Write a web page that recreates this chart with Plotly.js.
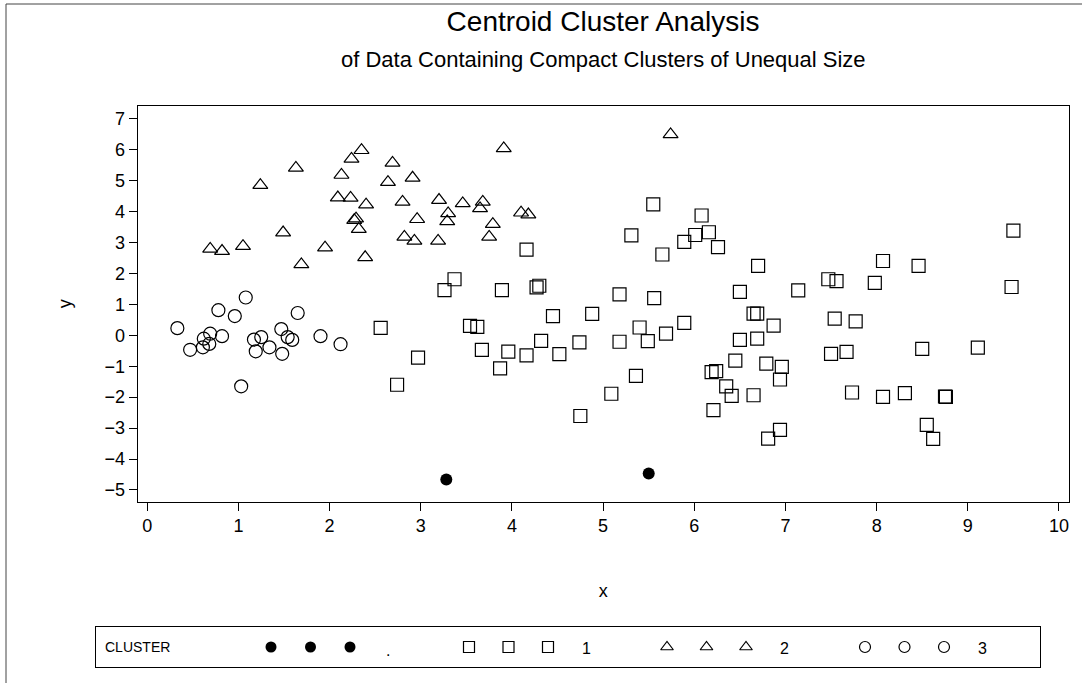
<!DOCTYPE html>
<html>
<head>
<meta charset="utf-8">
<script src="https://cdn.plot.ly/plotly-3.0.1.min.js"></script>
<style>html,body{margin:0;padding:0;background:#fff;}#chart{width:1082px;height:683px;}</style>
</head>
<body>
<div id="chart"></div>
<script>
// ---- data ----
const clusterLabels = ['.', '1', '2', '3'];

// cluster "." (unassigned)
const xMissing = [3.28, 5.50];
const yMissing = [-4.66, -4.47];

// cluster 1
const x1 = [3.26,3.37,2.56,2.97,2.74,3.89,4.27,4.30,5.18,5.56,6.50,6.65,6.69,4.45,4.88,3.54,3.62,5.40,5.69,5.89,
            3.67,3.96,4.16,4.32,4.52,4.74,5.18,5.49,3.87,5.36,5.09,4.75,6.50,6.45,6.19,6.24,6.35,6.41,6.65,6.21,
            5.55,6.08,5.31,6.01,6.16,5.89,6.26,5.65,4.16,6.70,9.50,8.07,8.46,7.47,7.56,7.98,7.14,9.48,6.87,7.54,
            7.77,6.69,6.79,6.96,6.94,7.50,7.67,8.50,9.11,7.73,8.07,8.31,8.75,8.55,8.62,6.94,6.81,8.76];
const y1 = [1.46,1.81,0.24,-0.72,-1.60,1.46,1.55,1.60,1.32,1.20,1.40,0.70,0.70,0.62,0.69,0.30,0.27,0.25,0.05,0.40,
            -0.47,-0.53,-0.65,-0.18,-0.61,-0.23,-0.21,-0.19,-1.07,-1.31,-1.89,-2.61,-0.15,-0.82,-1.19,-1.16,-1.65,-1.96,-1.94,-2.42,
            4.23,3.87,3.23,3.24,3.33,3.02,2.85,2.61,2.77,2.24,3.38,2.40,2.24,1.81,1.75,1.69,1.45,1.56,0.31,0.54,
            0.45,-0.11,-0.92,-1.02,-1.43,-0.60,-0.54,-0.44,-0.40,-1.85,-1.99,-1.87,-1.98,-2.90,-3.35,-3.06,-3.34,-1.99];

// cluster 2
const x2 = [2.35,2.24,2.69,1.63,2.13,2.64,2.91,1.24,2.09,2.23,2.40,2.80,3.20,3.30,3.29,2.29,2.27,2.32,2.96,2.82,
            2.93,3.19,1.49,0.69,0.82,1.05,1.95,1.69,2.39,5.74,3.91,3.46,3.68,3.65,3.79,3.75,4.10,4.18];
const y2 = [5.98,5.70,5.57,5.41,5.18,4.95,5.09,4.85,4.45,4.44,4.22,4.31,4.37,3.94,3.68,3.77,3.72,3.43,3.75,3.18,
            3.05,3.05,3.32,2.79,2.72,2.88,2.83,2.29,2.52,6.49,6.04,4.26,4.31,4.10,3.59,3.18,3.96,3.90];

// cluster 3
const x3 = [1.08,0.78,0.96,1.65,0.33,0.69,0.62,0.82,0.47,0.61,0.68,1.17,1.25,1.19,1.34,1.47,1.54,1.59,1.48,1.90,2.12,1.03];
const y3 = [1.22,0.81,0.62,0.72,0.23,0.05,-0.11,-0.03,-0.47,-0.39,-0.28,-0.14,-0.06,-0.52,-0.39,0.20,-0.06,-0.15,-0.60,-0.03,-0.29,-1.65];

const xTicks = [0,1,2,3,4,5,6,7,8,9,10];
const yTicks = [-5,-4,-3,-2,-1,0,1,2,3,4,5,6,7];

// ---- styles ----
const styles = [
  {symbol:'circle', color:'black', line:{color:'black', width:0}, size:12},
  {symbol:'square-open', color:'black', line:{color:'black', width:1.2}, size:13},
  {symbol:'triangle-up-open', color:'black', line:{color:'black', width:1.2}, size:13},
  {symbol:'circle-open', color:'black', line:{color:'black', width:1.2}, size:13}
];
const series = [[xMissing,yMissing],[x1,y1],[x2,y2],[x3,y3]];

const traces = series.map((s,i) => ({
  type:'scatter', mode:'markers', x:s[0], y:s[1], name:clusterLabels[i],
  xaxis:'x', yaxis:'y', hoverinfo:'x+y+name',
  marker:{symbol:styles[i].symbol, size:styles[i].size, color:styles[i].color, line:styles[i].line}
}));

// ---- page geometry (pixels) ----
const W = 1082, H = 683;
const mL = 96, mR = 13, mT = 106, mB = 16;
const pw = W - mL - mR, ph = H - mT - mB;
const px2fx = p => (p - mL) / pw;
const py2fy = p => (H - mB - p) / ph;
const legRight = 1040, legTop = 627;

// ---- custom legend (three symbols per cluster) on its own small axes, in pixel units ----
const legAnn = [{xref:'x2', yref:'y2', x:103, y:20, xanchor:'left', yanchor:'middle', text:'CLUSTER', showarrow:false, font:{size:14}}];
clusterLabels.forEach((lab,i) => {
  const base = 271 + 198*i;
  traces.push({
    type:'scatter', mode:'markers', xaxis:'x2', yaxis:'y2', hoverinfo:'skip',
    x:[base, base+39.5, base+79], y:[20,20,20],
    marker:{symbol:styles[i].symbol, size:11, color:styles[i].color, line:styles[i].line}
  });
  legAnn.push({xref:'x2', yref:'y2', x:base+117, y:i===0?17:19, xanchor:'center', yanchor:'middle', text:lab, showarrow:false, font:{size:16}});
});

const axisCommon = {showline:true, mirror:true, linecolor:'black', linewidth:1, showgrid:false, zeroline:false,
  ticks:'outside', ticklen:8, tickwidth:1, tickcolor:'black', tickfont:{size:18}};

const layout = {
  width:W, height:H,
  margin:{l:mL, r:mR, t:mT, b:mB},
  paper_bgcolor:'white', plot_bgcolor:'white',
  font:{family:'Liberation Sans, Arial, Helvetica, sans-serif', color:'black'},
  showlegend:false,
  title:{text:'Centroid Cluster Analysis', font:{size:28}, xref:'container', x:603/W, xanchor:'center', yref:'container', y:1-21/H, yanchor:'middle'},
  xaxis:Object.assign({}, axisCommon, {domain:[px2fx(137.7),1], range:[-0.105,10.11], tickvals:xTicks, anchor:'y',
    title:{text:'x', font:{size:18}, standoff:49}}),
  yaxis:Object.assign({}, axisCommon, {domain:[py2fy(501.7),1], range:[-5.38,7.41], tickvals:yTicks, anchor:'x',
    title:{text:'y', font:{size:18}, standoff:28}}),
  xaxis2:{domain:[0, px2fx(legRight)], range:[mL,legRight], anchor:'y2', showline:true, mirror:true, linecolor:'black', linewidth:1,
    showgrid:false, zeroline:false, showticklabels:false, ticks:'', fixedrange:true},
  yaxis2:{domain:[0, py2fy(legTop)], range:[0,40], anchor:'x2', showline:true, mirror:true, linecolor:'black', linewidth:1,
    showgrid:false, zeroline:false, showticklabels:false, ticks:'', fixedrange:true},
  annotations:[
    {xref:'paper', yref:'paper', x:px2fx(603), y:py2fy(60), xanchor:'center', yanchor:'middle', showarrow:false,
     text:'of Data Containing Compact Clusters of Unequal Size', font:{size:22}}
  ].concat(legAnn),
  shapes:[
    {type:'path', xref:'paper', yref:'paper',
     path:'M '+px2fx(6)+' '+py2fy(H+2)+' L '+px2fx(6)+' '+py2fy(4)+' L '+px2fx(W+2)+' '+py2fy(4),
     line:{color:'#444', width:1}}
  ]
};

Plotly.newPlot('chart', traces, layout, {displayModeBar:false, staticPlot:true});
</script>
</body>
</html>
